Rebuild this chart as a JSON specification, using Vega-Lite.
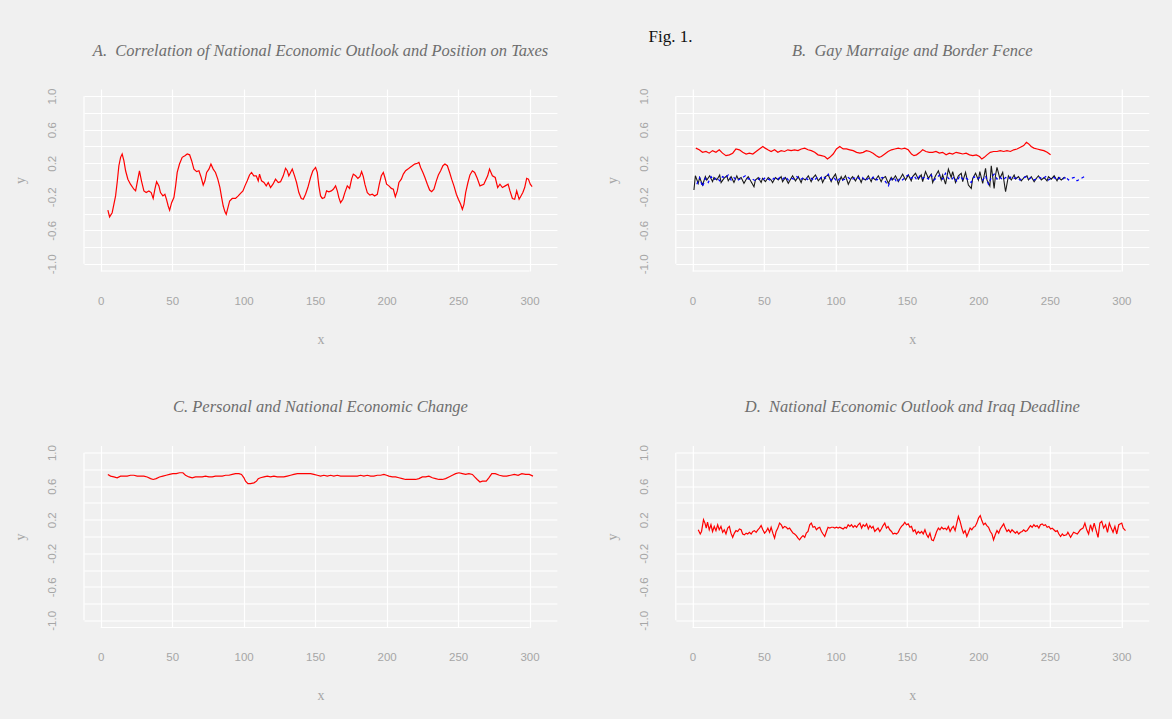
{
  "$schema": "https://vega.github.io/schema/vega-lite/v6.json",
  "background": "#f0f0f0",
  "padding": {"left": 13, "top": 28, "right": 23.7, "bottom": 15.5},
  "title": {"text": "Fig. 1.", "anchor": "start", "frame": "bounds", "dx": 635, "offset": -3.5, "font": "Liberation Serif", "fontStyle": "normal", "fontSize": 17, "color": "#111111"},
  "bounds": "flush",
  "columns": 2,
  "spacing": {"row": 174.5, "column": 118.8},
  "config": {
    "view": {"stroke": null},
    "title": {"font": "Liberation Serif", "fontStyle": "italic", "fontWeight": "normal", "fontSize": 16.5, "color": "#6e6e6e", "offset": 29, "anchor": "middle"},
    "axis": {
      "domain": false, "ticks": false, "grid": true, "gridColor": "#ffffff", "gridWidth": 1.2,
      "labelColor": "#a6a6a6", "labelFont": "Liberation Sans", "labelFontSize": 11.5,
      "titleColor": "#a6a6a6", "titleFont": "Liberation Serif", "titleFontWeight": "normal", "titleFontSize": 14,
      "labelOverlap": false, "labelFlush": false
    },
    "axisX": {"labelPadding": 24, "titlePadding": 26, "tickCount": 7},
    "axisY": {
      "labelExpr": "(round(datum.value*10)+10) % 4 == 0 ? replace(format(datum.value, '.1f'), '\u2212', '-') : ''",
      "labelAngle": -90, "labelPadding": 26.5, "titlePadding": 19, "tickCount": 11
    }
  },
  "datasets": {
    "a": [
      {"x":5,"y":-0.36},{"x":6.2,"y":-0.44},{"x":8,"y":-0.39},{"x":9.2,"y":-0.29},{"x":10.4,"y":-0.19},{"x":11.5,"y":-0.03},{"x":12.7,"y":0.17},{"x":13.9,"y":0.27},{"x":15,"y":0.31},{"x":16.2,"y":0.23},{"x":17.4,"y":0.11},{"x":19,"y":0.01},{"x":20.8,"y":-0.05},{"x":23.2,"y":-0.11},{"x":24.4,"y":-0.13},{"x":25.5,"y":-0.03},{"x":27.1,"y":0.11},{"x":28.5,"y":-0.01},{"x":30.2,"y":-0.13},{"x":31.8,"y":-0.15},{"x":33.7,"y":-0.13},{"x":35.3,"y":-0.15},{"x":36.7,"y":-0.22},{"x":37.9,"y":-0.11},{"x":39.1,"y":-0.02},{"x":40.7,"y":-0.07},{"x":41.8,"y":-0.15},{"x":43.5,"y":-0.19},{"x":44.9,"y":-0.17},{"x":46,"y":-0.23},{"x":47.2,"y":-0.31},{"x":48.2,"y":-0.36},{"x":49.6,"y":-0.27},{"x":51.2,"y":-0.21},{"x":52.4,"y":-0.07},{"x":53.5,"y":0.09},{"x":55.1,"y":0.19},{"x":57,"y":0.27},{"x":58.9,"y":0.29},{"x":60.5,"y":0.31},{"x":62.2,"y":0.3},{"x":63.6,"y":0.23},{"x":65.2,"y":0.13},{"x":67.1,"y":0.1},{"x":68.7,"y":0.11},{"x":70.3,"y":0.03},{"x":71.7,"y":-0.06},{"x":72.9,"y":-0.01},{"x":74.1,"y":0.09},{"x":75.7,"y":0.13},{"x":77.1,"y":0.19},{"x":78.7,"y":0.13},{"x":80.3,"y":0.09},{"x":81.9,"y":0.01},{"x":83.4,"y":-0.09},{"x":84.6,"y":-0.21},{"x":85.7,"y":-0.31},{"x":86.9,"y":-0.38},{"x":87.8,"y":-0.41},{"x":89,"y":-0.33},{"x":90.2,"y":-0.25},{"x":92,"y":-0.22},{"x":94.3,"y":-0.22},{"x":96.2,"y":-0.19},{"x":97.8,"y":-0.16},{"x":99.5,"y":-0.13},{"x":100.9,"y":-0.07},{"x":102.5,"y":-0.01},{"x":104.1,"y":0.06},{"x":105.5,"y":0.09},{"x":107.1,"y":0.05},{"x":108.8,"y":0.05},{"x":110.2,"y":-0.01},{"x":111.1,"y":0.07},{"x":112.5,"y":-0.01},{"x":114.2,"y":-0.03},{"x":115.8,"y":-0.07},{"x":117.2,"y":-0.03},{"x":118.8,"y":-0.09},{"x":120.5,"y":-0.05},{"x":122.3,"y":0.01},{"x":124.2,"y":-0.03},{"x":125.8,"y":-0.02},{"x":127.7,"y":0.05},{"x":129.3,"y":0.14},{"x":130.5,"y":0.11},{"x":131.6,"y":0.05},{"x":132.8,"y":0.09},{"x":134,"y":0.13},{"x":135.6,"y":0.05},{"x":137,"y":-0.03},{"x":138.6,"y":-0.15},{"x":140.3,"y":-0.22},{"x":141.7,"y":-0.23},{"x":143.3,"y":-0.17},{"x":144.9,"y":-0.09},{"x":146.8,"y":0.03},{"x":148.4,"y":0.11},{"x":150.3,"y":0.15},{"x":151.5,"y":0.09},{"x":152.6,"y":-0.07},{"x":153.8,"y":-0.19},{"x":155,"y":-0.22},{"x":156.6,"y":-0.21},{"x":158,"y":-0.13},{"x":159.6,"y":-0.14},{"x":161.3,"y":-0.13},{"x":162.7,"y":-0.11},{"x":164.3,"y":-0.07},{"x":165.5,"y":-0.13},{"x":166.6,"y":-0.21},{"x":167.8,"y":-0.27},{"x":169.4,"y":-0.23},{"x":170.8,"y":-0.15},{"x":172.5,"y":-0.07},{"x":174.1,"y":-0.1},{"x":175.5,"y":0.01},{"x":176.7,"y":0.07},{"x":178.3,"y":0.05},{"x":179.9,"y":0.02},{"x":181.3,"y":0.04},{"x":182.5,"y":0.1},{"x":183.7,"y":0.04},{"x":184.8,"y":-0.05},{"x":186.5,"y":-0.15},{"x":188.3,"y":-0.18},{"x":190,"y":-0.17},{"x":191.6,"y":-0.19},{"x":193.5,"y":-0.17},{"x":194.9,"y":-0.05},{"x":196.3,"y":0.05},{"x":197.7,"y":0.09},{"x":198.8,"y":0.03},{"x":200,"y":-0.05},{"x":201.6,"y":-0.07},{"x":203.3,"y":-0.1},{"x":204.7,"y":-0.11},{"x":206.1,"y":-0.2},{"x":207.5,"y":-0.13},{"x":208.6,"y":-0.03},{"x":210.3,"y":0.01},{"x":211.7,"y":0.07},{"x":213.3,"y":0.11},{"x":214.9,"y":0.13},{"x":216.3,"y":0.15},{"x":218,"y":0.17},{"x":219.6,"y":0.19},{"x":221.5,"y":0.2},{"x":222.6,"y":0.21},{"x":223.8,"y":0.15},{"x":225.4,"y":0.09},{"x":226.8,"y":0.03},{"x":228.5,"y":-0.05},{"x":230.1,"y":-0.12},{"x":231.5,"y":-0.14},{"x":233.1,"y":-0.11},{"x":234.8,"y":-0.01},{"x":236.2,"y":0.06},{"x":237.8,"y":0.11},{"x":239.4,"y":0.17},{"x":240.8,"y":0.19},{"x":242.5,"y":0.17},{"x":244.1,"y":0.09},{"x":245.5,"y":0.01},{"x":247.1,"y":-0.07},{"x":248.8,"y":-0.17},{"x":250.2,"y":-0.23},{"x":251.8,"y":-0.29},{"x":253,"y":-0.35},{"x":254.1,"y":-0.29},{"x":255.3,"y":-0.15},{"x":256.9,"y":-0.03},{"x":258.3,"y":0.06},{"x":260,"y":0.11},{"x":261.6,"y":0.09},{"x":263.4,"y":0.02},{"x":265.3,"y":-0.07},{"x":268,"y":-0.05},{"x":270.7,"y":0.05},{"x":272,"y":0.13},{"x":274,"y":0.05},{"x":276,"y":0.03},{"x":277.7,"y":-0.09},{"x":279.3,"y":-0.05},{"x":281,"y":-0.09},{"x":283,"y":-0.07},{"x":285,"y":-0.05},{"x":286.3,"y":-0.13},{"x":288,"y":-0.22},{"x":289.6,"y":-0.23},{"x":291,"y":-0.13},{"x":292.7,"y":-0.23},{"x":294,"y":-0.19},{"x":295.3,"y":-0.15},{"x":296.6,"y":-0.09},{"x":298,"y":0.02},{"x":299.2,"y":0.01},{"x":300.5,"y":-0.05},{"x":301.8,"y":-0.08}
    ],
    "b_red": [
      {"x":2.3,"y":0.38},{"x":4.7,"y":0.36},{"x":7,"y":0.33},{"x":9.4,"y":0.34},{"x":11.7,"y":0.32},{"x":14,"y":0.35},{"x":16.4,"y":0.33},{"x":18.7,"y":0.36},{"x":21,"y":0.32},{"x":23.4,"y":0.29},{"x":25.8,"y":0.3},{"x":28.1,"y":0.32},{"x":30.4,"y":0.37},{"x":32.8,"y":0.36},{"x":35.1,"y":0.33},{"x":37.5,"y":0.31},{"x":39.8,"y":0.32},{"x":42.2,"y":0.31},{"x":44.5,"y":0.34},{"x":46.8,"y":0.37},{"x":49.2,"y":0.4},{"x":50.8,"y":0.38},{"x":52.7,"y":0.36},{"x":55,"y":0.34},{"x":57.4,"y":0.36},{"x":59.7,"y":0.33},{"x":62,"y":0.35},{"x":64.4,"y":0.34},{"x":66.7,"y":0.36},{"x":69,"y":0.35},{"x":71.4,"y":0.36},{"x":73.8,"y":0.35},{"x":76.1,"y":0.37},{"x":78.5,"y":0.38},{"x":80.8,"y":0.36},{"x":83.1,"y":0.35},{"x":85.5,"y":0.33},{"x":87.8,"y":0.3},{"x":90.2,"y":0.29},{"x":92.5,"y":0.28},{"x":94.4,"y":0.25},{"x":96,"y":0.27},{"x":98.4,"y":0.31},{"x":100.7,"y":0.37},{"x":103,"y":0.4},{"x":105.4,"y":0.37},{"x":107.7,"y":0.37},{"x":110,"y":0.36},{"x":112.4,"y":0.35},{"x":114.8,"y":0.33},{"x":117.1,"y":0.32},{"x":119.4,"y":0.33},{"x":121.6,"y":0.35},{"x":124,"y":0.34},{"x":126.3,"y":0.32},{"x":128.6,"y":0.29},{"x":130.5,"y":0.27},{"x":132.1,"y":0.28},{"x":134.5,"y":0.31},{"x":136.8,"y":0.34},{"x":139.2,"y":0.36},{"x":141.5,"y":0.37},{"x":143.9,"y":0.38},{"x":146.2,"y":0.37},{"x":148.5,"y":0.38},{"x":150.9,"y":0.36},{"x":153.2,"y":0.31},{"x":154.9,"y":0.29},{"x":156.7,"y":0.3},{"x":159.1,"y":0.33},{"x":161,"y":0.36},{"x":163.3,"y":0.34},{"x":165.6,"y":0.33},{"x":168,"y":0.33},{"x":170.3,"y":0.34},{"x":172.7,"y":0.32},{"x":175,"y":0.33},{"x":177.4,"y":0.3},{"x":179.7,"y":0.32},{"x":182,"y":0.31},{"x":184.4,"y":0.33},{"x":186.7,"y":0.32},{"x":189.1,"y":0.31},{"x":191.4,"y":0.32},{"x":193.8,"y":0.3},{"x":196.1,"y":0.29},{"x":198.5,"y":0.3},{"x":200.8,"y":0.28},{"x":202.4,"y":0.25},{"x":204.1,"y":0.27},{"x":206,"y":0.3},{"x":208.3,"y":0.33},{"x":210.6,"y":0.34},{"x":213,"y":0.34},{"x":215.3,"y":0.35},{"x":217.7,"y":0.34},{"x":220,"y":0.35},{"x":222.4,"y":0.34},{"x":224.7,"y":0.36},{"x":227,"y":0.37},{"x":229.4,"y":0.39},{"x":231.7,"y":0.41},{"x":233.6,"y":0.45},{"x":235.2,"y":0.43},{"x":236.9,"y":0.4},{"x":238.8,"y":0.38},{"x":241.1,"y":0.37},{"x":243.4,"y":0.36},{"x":245.8,"y":0.35},{"x":248.1,"y":0.33},{"x":250.5,"y":0.3}
    ],
    "b_black": [
      {"x":1,"y":-0.12},{"x":2,"y":0.05},{"x":4,"y":-0.04},{"x":5,"y":0.03},{"x":7,"y":-0.06},{"x":9,"y":0.04},{"x":10,"y":0},{"x":12,"y":0.05},{"x":14,"y":-0.02},{"x":15,"y":0.03},{"x":17,"y":0},{"x":19,"y":0.06},{"x":20,"y":-0.03},{"x":22,"y":0.02},{"x":24,"y":0.05},{"x":25,"y":-0.01},{"x":27,"y":0.04},{"x":29,"y":-0.03},{"x":31,"y":0.05},{"x":32,"y":0.01},{"x":34,"y":0.03},{"x":36,"y":-0.04},{"x":38,"y":0.02},{"x":39,"y":0.04},{"x":41,"y":-0.02},{"x":43,"y":-0.08},{"x":44,"y":0},{"x":46,"y":0.03},{"x":48,"y":-0.03},{"x":49,"y":0.02},{"x":51,"y":-0.02},{"x":53,"y":0.03},{"x":55,"y":0},{"x":56,"y":-0.03},{"x":58,"y":0.03},{"x":60,"y":0},{"x":62,"y":0.04},{"x":63,"y":-0.02},{"x":65,"y":0.03},{"x":67,"y":-0.04},{"x":69,"y":0.02},{"x":70,"y":0.05},{"x":72,"y":-0.01},{"x":74,"y":0.04},{"x":76,"y":-0.03},{"x":77,"y":0.02},{"x":79,"y":0},{"x":81,"y":0.05},{"x":83,"y":-0.02},{"x":84,"y":0.02},{"x":86,"y":0.06},{"x":88,"y":-0.01},{"x":90,"y":0.03},{"x":91,"y":-0.03},{"x":93,"y":0.04},{"x":95,"y":0.06},{"x":97,"y":-0.02},{"x":98,"y":0.02},{"x":100,"y":0.07},{"x":102,"y":-0.05},{"x":104,"y":0.04},{"x":105,"y":0},{"x":107,"y":0.05},{"x":109,"y":-0.05},{"x":111,"y":0.02},{"x":112,"y":0.04},{"x":114,"y":-0.01},{"x":116,"y":0.05},{"x":118,"y":-0.03},{"x":119,"y":0.02},{"x":121,"y":0},{"x":123,"y":0.05},{"x":125,"y":-0.02},{"x":126,"y":0.03},{"x":128,"y":0},{"x":130,"y":0.05},{"x":132,"y":-0.02},{"x":133,"y":0.02},{"x":135,"y":0.04},{"x":137,"y":-0.04},{"x":139,"y":0.03},{"x":140,"y":0},{"x":142,"y":0.05},{"x":144,"y":-0.02},{"x":146,"y":0.04},{"x":147,"y":0.07},{"x":149,"y":0},{"x":151,"y":0.06},{"x":153,"y":-0.01},{"x":154,"y":0.04},{"x":156,"y":0.08},{"x":158,"y":0.01},{"x":160,"y":0.06},{"x":161,"y":-0.02},{"x":163,"y":0.1},{"x":165,"y":0.02},{"x":167,"y":0.07},{"x":168,"y":-0.03},{"x":170,"y":0.05},{"x":172,"y":0.11},{"x":174,"y":0},{"x":175,"y":0.06},{"x":177,"y":-0.05},{"x":179,"y":0.13},{"x":181,"y":0.03},{"x":182,"y":0.1},{"x":184,"y":-0.03},{"x":186,"y":0.05},{"x":188,"y":0.08},{"x":189,"y":-0.02},{"x":191,"y":0.09},{"x":193,"y":-0.06},{"x":195,"y":-0.1},{"x":196,"y":0.02},{"x":198,"y":0.08},{"x":200,"y":0},{"x":201,"y":0.1},{"x":203,"y":-0.04},{"x":205,"y":0.14},{"x":206,"y":0},{"x":208,"y":-0.07},{"x":209,"y":0.17},{"x":211,"y":-0.1},{"x":212,"y":0.06},{"x":213,"y":0.15},{"x":215,"y":0.02},{"x":217,"y":0.09},{"x":219,"y":-0.14},{"x":221,"y":0.05},{"x":223,"y":0},{"x":225,"y":0.06},{"x":226,"y":0.01},{"x":228,"y":0.04},{"x":230,"y":-0.01},{"x":232,"y":0.03},{"x":234,"y":0.05},{"x":235,"y":0},{"x":237,"y":0.04},{"x":239,"y":-0.02},{"x":241,"y":0.03},{"x":242,"y":0.05},{"x":244,"y":0},{"x":246,"y":0.03},{"x":248,"y":-0.01},{"x":249,"y":0.04},{"x":251,"y":0.01},{"x":253,"y":0.05},{"x":255,"y":-0.01},{"x":256,"y":0.03},{"x":258,"y":0},{"x":260,"y":0.03},{"x":261,"y":0.02}
    ],
    "b_blue": [
      {"x":3,"y":-0.05},{"x":5,"y":0.03},{"x":7,"y":-0.08},{"x":9,"y":0.02},{"x":11,"y":-0.03},{"x":13,"y":0.04},{"x":15,"y":0},{"x":17,"y":0.03},{"x":19,"y":-0.01},{"x":21,"y":0.04},{"x":23,"y":0.02},{"x":25,"y":0.06},{"x":27,"y":0},{"x":29,"y":0.03},{"x":31,"y":-0.01},{"x":33,"y":0.01},{"x":35,"y":0.03},{"x":37,"y":0.05},{"x":39,"y":0.01},{"x":41,"y":0.02},{"x":43,"y":0},{"x":45,"y":-0.01},{"x":47,"y":0.02},{"x":49,"y":0},{"x":51,"y":0.03},{"x":53,"y":0.01},{"x":55,"y":-0.01},{"x":57,"y":0.02},{"x":59,"y":0},{"x":61,"y":0.03},{"x":63,"y":0.01},{"x":65,"y":0.04},{"x":67,"y":0},{"x":69,"y":0.02},{"x":71,"y":0.01},{"x":73,"y":0.04},{"x":75,"y":0},{"x":77,"y":0.02},{"x":79,"y":0.03},{"x":81,"y":0},{"x":83,"y":0.02},{"x":85,"y":-0.01},{"x":87,"y":0.03},{"x":89,"y":0.01},{"x":91,"y":0.05},{"x":93,"y":0.02},{"x":95,"y":0.07},{"x":97,"y":0},{"x":99,"y":0.03},{"x":101,"y":-0.02},{"x":103,"y":0.02},{"x":105,"y":0},{"x":107,"y":0.01},{"x":109,"y":0.03},{"x":111,"y":0},{"x":113,"y":0.02},{"x":115,"y":0.04},{"x":117,"y":0.01},{"x":119,"y":0.03},{"x":121,"y":-0.01},{"x":123,"y":0.02},{"x":125,"y":0.01},{"x":127,"y":0.04},{"x":129,"y":0},{"x":131,"y":0.02},{"x":133,"y":0.03},{"x":135,"y":-0.02},{"x":137,"y":-0.07},{"x":139,"y":0.01},{"x":141,"y":0.03},{"x":143,"y":-0.03},{"x":145,"y":0.02},{"x":147,"y":0},{"x":149,"y":0.04},{"x":151,"y":0.06},{"x":153,"y":0.02},{"x":155,"y":0.05},{"x":157,"y":0},{"x":159,"y":0.05},{"x":161,"y":0.02},{"x":163,"y":0.04},{"x":165,"y":0.01},{"x":167,"y":0.06},{"x":169,"y":0},{"x":171,"y":0.03},{"x":173,"y":0.06},{"x":175,"y":0.01},{"x":177,"y":0.08},{"x":179,"y":0.02},{"x":181,"y":0},{"x":183,"y":0.04},{"x":185,"y":-0.02},{"x":187,"y":0.05},{"x":189,"y":0.01},{"x":191,"y":0.03},{"x":193,"y":0},{"x":195,"y":-0.03},{"x":197,"y":0.04},{"x":199,"y":0.01},{"x":201,"y":0.03},{"x":203,"y":0},{"x":205,"y":0.05},{"x":207,"y":-0.05},{"x":209,"y":0.03},{"x":211,"y":0.07},{"x":213,"y":0.01},{"x":215,"y":0.04},{"x":217,"y":0},{"x":219,"y":0.03},{"x":221,"y":0.01},{"x":223,"y":0.04},{"x":225,"y":0.02},{"x":227,"y":0.03},{"x":229,"y":0},{"x":231,"y":0.02},{"x":233,"y":0.04},{"x":235,"y":0.01},{"x":237,"y":0.03},{"x":239,"y":0},{"x":241,"y":0.02},{"x":243,"y":0.03},{"x":245,"y":0.01},{"x":247,"y":0.04},{"x":249,"y":0},{"x":251,"y":0.02},{"x":253,"y":0.03},{"x":255,"y":0},{"x":257,"y":0.03},{"x":259,"y":0.01},{"x":261,"y":0.04},{"x":263,"y":0},{"x":265,"y":0.02},{"x":267,"y":0.03},{"x":269,"y":-0.01},{"x":271,"y":0.01},{"x":273,"y":0.03},{"x":275,"y":0.05}
    ],
    "c": [
      {"x":5,"y":0.74},{"x":6.9,"y":0.72},{"x":9.2,"y":0.71},{"x":11.5,"y":0.7},{"x":13.9,"y":0.72},{"x":16.2,"y":0.72},{"x":18.5,"y":0.72},{"x":20.9,"y":0.73},{"x":23.2,"y":0.73},{"x":25.5,"y":0.72},{"x":27.9,"y":0.72},{"x":30.2,"y":0.72},{"x":32.5,"y":0.71},{"x":34.9,"y":0.69},{"x":36.7,"y":0.68},{"x":38.8,"y":0.69},{"x":41.1,"y":0.71},{"x":43.5,"y":0.72},{"x":45.8,"y":0.73},{"x":48.1,"y":0.74},{"x":50.5,"y":0.75},{"x":52.8,"y":0.75},{"x":55.2,"y":0.76},{"x":57.5,"y":0.76},{"x":59.3,"y":0.73},{"x":61.7,"y":0.71},{"x":64,"y":0.7},{"x":66.3,"y":0.71},{"x":68.7,"y":0.71},{"x":71,"y":0.71},{"x":73.3,"y":0.72},{"x":75.7,"y":0.71},{"x":78,"y":0.71},{"x":80.3,"y":0.72},{"x":82.7,"y":0.72},{"x":85,"y":0.72},{"x":87.4,"y":0.73},{"x":89.7,"y":0.73},{"x":92,"y":0.74},{"x":94.3,"y":0.75},{"x":96.7,"y":0.75},{"x":98.5,"y":0.74},{"x":100.2,"y":0.7},{"x":101.3,"y":0.66},{"x":103,"y":0.63},{"x":104.8,"y":0.63},{"x":107.2,"y":0.64},{"x":109,"y":0.66},{"x":110.2,"y":0.69},{"x":111.8,"y":0.7},{"x":114.2,"y":0.71},{"x":116.5,"y":0.72},{"x":118.8,"y":0.71},{"x":121.2,"y":0.72},{"x":123.5,"y":0.71},{"x":125.8,"y":0.71},{"x":128.1,"y":0.71},{"x":130.5,"y":0.72},{"x":132.8,"y":0.73},{"x":135.1,"y":0.74},{"x":137.5,"y":0.75},{"x":139.8,"y":0.75},{"x":142.1,"y":0.75},{"x":144.5,"y":0.75},{"x":146.8,"y":0.75},{"x":149.1,"y":0.74},{"x":151.5,"y":0.73},{"x":153.8,"y":0.72},{"x":156.1,"y":0.73},{"x":158.5,"y":0.72},{"x":160.8,"y":0.73},{"x":163.1,"y":0.72},{"x":165.5,"y":0.73},{"x":167.8,"y":0.72},{"x":170.1,"y":0.72},{"x":172.5,"y":0.72},{"x":174.8,"y":0.72},{"x":177.1,"y":0.72},{"x":179.5,"y":0.72},{"x":181.8,"y":0.73},{"x":184.1,"y":0.72},{"x":186.5,"y":0.73},{"x":188.8,"y":0.72},{"x":191.1,"y":0.72},{"x":193.5,"y":0.73},{"x":195.8,"y":0.73},{"x":198.1,"y":0.74},{"x":200,"y":0.73},{"x":201.6,"y":0.72},{"x":204,"y":0.71},{"x":206.3,"y":0.71},{"x":208.6,"y":0.7},{"x":211,"y":0.69},{"x":213.3,"y":0.68},{"x":215.6,"y":0.68},{"x":218,"y":0.68},{"x":220.3,"y":0.68},{"x":222.6,"y":0.69},{"x":225,"y":0.71},{"x":227.3,"y":0.71},{"x":229.6,"y":0.72},{"x":232,"y":0.7},{"x":234.3,"y":0.69},{"x":236.6,"y":0.68},{"x":239,"y":0.68},{"x":241.3,"y":0.69},{"x":243.6,"y":0.71},{"x":246,"y":0.73},{"x":248.3,"y":0.75},{"x":250.6,"y":0.76},{"x":253,"y":0.75},{"x":255.3,"y":0.74},{"x":257.6,"y":0.75},{"x":260,"y":0.74},{"x":261.6,"y":0.71},{"x":263.4,"y":0.68},{"x":265.3,"y":0.65},{"x":267,"y":0.66},{"x":269.7,"y":0.66},{"x":271.5,"y":0.7},{"x":273.6,"y":0.75},{"x":276,"y":0.75},{"x":278.9,"y":0.73},{"x":281.5,"y":0.72},{"x":284,"y":0.72},{"x":286.8,"y":0.73},{"x":289.4,"y":0.74},{"x":292,"y":0.73},{"x":294.6,"y":0.75},{"x":297.2,"y":0.74},{"x":299.8,"y":0.74},{"x":302.4,"y":0.72}
    ],
    "d": [
      {"x":4,"y":0.08},{"x":5.4,"y":0.03},{"x":6.3,"y":0.06},{"x":7.7,"y":0.2},{"x":8.7,"y":0.16},{"x":9.6,"y":0.1},{"x":10.5,"y":0.17},{"x":11.7,"y":0.08},{"x":12.9,"y":0.14},{"x":14,"y":0.06},{"x":15.2,"y":0.12},{"x":16.4,"y":0.07},{"x":17.6,"y":0.14},{"x":18.7,"y":0.08},{"x":19.9,"y":0.12},{"x":21.1,"y":0.05},{"x":22.2,"y":0.08},{"x":23.4,"y":0.03},{"x":24.6,"y":0.1},{"x":25.8,"y":0.12},{"x":26.9,"y":0.04},{"x":28.1,"y":-0.01},{"x":29.3,"y":0.04},{"x":30.4,"y":0.07},{"x":31.6,"y":0.06},{"x":32.8,"y":0.09},{"x":34,"y":0.08},{"x":35.1,"y":0.03},{"x":36.3,"y":0.02},{"x":37.5,"y":0.04},{"x":38.6,"y":0.03},{"x":39.8,"y":0.05},{"x":41,"y":0.03},{"x":42.2,"y":0.06},{"x":43.3,"y":0.07},{"x":44.5,"y":0.05},{"x":45.7,"y":0.08},{"x":46.8,"y":0.1},{"x":48,"y":0.13},{"x":49.2,"y":0.08},{"x":50.4,"y":0.04},{"x":51.5,"y":0.06},{"x":52.7,"y":0.1},{"x":53.9,"y":0.05},{"x":55,"y":0.11},{"x":56.2,"y":0.04},{"x":57.4,"y":-0.02},{"x":58.5,"y":0.06},{"x":59.7,"y":0.1},{"x":60.9,"y":0.16},{"x":62.1,"y":0.14},{"x":63.2,"y":0.1},{"x":64.4,"y":0.12},{"x":65.6,"y":0.11},{"x":66.7,"y":0.09},{"x":67.9,"y":0.1},{"x":69.1,"y":0.07},{"x":70.3,"y":0.04},{"x":71.4,"y":0.03},{"x":72.6,"y":0.01},{"x":73.8,"y":-0.02},{"x":74.9,"y":-0.04},{"x":76.1,"y":-0.01},{"x":77.3,"y":0.01},{"x":78.5,"y":-0.01},{"x":79.6,"y":0.04},{"x":80.8,"y":0.06},{"x":82,"y":0.14},{"x":83.1,"y":0.16},{"x":84.3,"y":0.11},{"x":85.5,"y":0.12},{"x":86.7,"y":0.08},{"x":87.8,"y":0.1},{"x":89,"y":0.11},{"x":90.2,"y":0.06},{"x":91.3,"y":0.03},{"x":92.5,"y":0},{"x":93.7,"y":0.06},{"x":94.8,"y":0.11},{"x":96,"y":0.1},{"x":97.2,"y":0.11},{"x":98.4,"y":0.11},{"x":99.5,"y":0.1},{"x":100.7,"y":0.11},{"x":101.9,"y":0.1},{"x":103,"y":0.11},{"x":104.2,"y":0.1},{"x":105.4,"y":0.09},{"x":106.6,"y":0.11},{"x":107.7,"y":0.1},{"x":108.9,"y":0.14},{"x":110.1,"y":0.12},{"x":111.2,"y":0.14},{"x":112.4,"y":0.11},{"x":113.6,"y":0.13},{"x":114.8,"y":0.11},{"x":115.9,"y":0.14},{"x":117.1,"y":0.16},{"x":118.3,"y":0.1},{"x":119.4,"y":0.14},{"x":120.6,"y":0.12},{"x":121.8,"y":0.15},{"x":123,"y":0.09},{"x":124.1,"y":0.13},{"x":125.3,"y":0.1},{"x":126.3,"y":0.12},{"x":127.5,"y":0.06},{"x":128.6,"y":0.08},{"x":129.8,"y":0.1},{"x":131,"y":0.06},{"x":132.1,"y":0.09},{"x":133.3,"y":0.13},{"x":134.5,"y":0.16},{"x":135.7,"y":0.1},{"x":136.8,"y":0.12},{"x":138,"y":0.08},{"x":139.2,"y":0.06},{"x":140.3,"y":0.03},{"x":141.5,"y":0.04},{"x":142.7,"y":0.03},{"x":143.9,"y":0.05},{"x":145,"y":0.09},{"x":146.2,"y":0.12},{"x":147.4,"y":0.14},{"x":148.5,"y":0.17},{"x":149.7,"y":0.14},{"x":150.9,"y":0.15},{"x":152.1,"y":0.11},{"x":153.2,"y":0.12},{"x":154.4,"y":0.06},{"x":155.6,"y":0.08},{"x":156.7,"y":0.03},{"x":157.9,"y":0.06},{"x":159.1,"y":0.04},{"x":160.3,"y":0.06},{"x":161.4,"y":0.03},{"x":162.6,"y":0.08},{"x":163.8,"y":0.02},{"x":164.9,"y":-0.01},{"x":166.1,"y":0.04},{"x":167.3,"y":-0.04},{"x":168.5,"y":-0.05},{"x":169.6,"y":0},{"x":170.8,"y":0.06},{"x":172,"y":0.1},{"x":173.1,"y":0.08},{"x":174.3,"y":0.11},{"x":175.5,"y":0.09},{"x":176.7,"y":0.1},{"x":177.8,"y":0.08},{"x":179,"y":0.12},{"x":180.2,"y":0.06},{"x":181.4,"y":0.1},{"x":182.5,"y":0.12},{"x":183.7,"y":0.07},{"x":184.9,"y":0.16},{"x":186,"y":0.24},{"x":187.2,"y":0.18},{"x":188.4,"y":0.1},{"x":189.5,"y":0.04},{"x":190.7,"y":0.07},{"x":191.9,"y":0},{"x":193.1,"y":0.05},{"x":194.2,"y":0.1},{"x":195.4,"y":0.08},{"x":196.6,"y":0.11},{"x":197.7,"y":0.12},{"x":198.9,"y":0.16},{"x":200.1,"y":0.22},{"x":201.3,"y":0.25},{"x":202.4,"y":0.19},{"x":203.6,"y":0.14},{"x":204.8,"y":0.16},{"x":205.9,"y":0.13},{"x":207.1,"y":0.11},{"x":208.3,"y":0.06},{"x":209.5,"y":0.03},{"x":210.6,"y":-0.04},{"x":211.8,"y":0.02},{"x":213,"y":0.07},{"x":214.2,"y":0.04},{"x":215.3,"y":0.09},{"x":216.5,"y":0.12},{"x":217.7,"y":0.15},{"x":218.8,"y":0.1},{"x":220,"y":0.06},{"x":221.2,"y":0.08},{"x":222.4,"y":0.05},{"x":223.5,"y":0.08},{"x":224.7,"y":0.06},{"x":225.9,"y":0.04},{"x":227,"y":0.06},{"x":228.2,"y":0.03},{"x":229.4,"y":0.05},{"x":230.6,"y":0.06},{"x":231.7,"y":0.08},{"x":232.9,"y":0.06},{"x":234.1,"y":0.07},{"x":235.2,"y":0.1},{"x":236.4,"y":0.13},{"x":237.6,"y":0.11},{"x":238.8,"y":0.14},{"x":239.9,"y":0.12},{"x":241.1,"y":0.13},{"x":242.3,"y":0.1},{"x":243.4,"y":0.14},{"x":244.6,"y":0.15},{"x":245.8,"y":0.13},{"x":246.9,"y":0.14},{"x":248.1,"y":0.11},{"x":249.3,"y":0.12},{"x":250.5,"y":0.09},{"x":251.6,"y":0.1},{"x":252.8,"y":0.08},{"x":254,"y":0.06},{"x":255.2,"y":0.07},{"x":256.3,"y":0.03},{"x":257.5,"y":0},{"x":258.7,"y":0.03},{"x":259.8,"y":0.01},{"x":261.7,"y":0.02},{"x":262.6,"y":0.05},{"x":264.5,"y":-0.01},{"x":266.6,"y":0.05},{"x":269.2,"y":0.03},{"x":271.3,"y":0.08},{"x":273.2,"y":0.1},{"x":274.5,"y":0.16},{"x":275.8,"y":0.08},{"x":277.1,"y":0.03},{"x":278.4,"y":0.14},{"x":279.7,"y":0.07},{"x":281,"y":0.16},{"x":282.4,"y":0.07},{"x":283.7,"y":-0.01},{"x":285,"y":0.16},{"x":286.3,"y":0.18},{"x":287.6,"y":0.1},{"x":289,"y":0.14},{"x":290.3,"y":0.05},{"x":291.6,"y":0.16},{"x":292.9,"y":0.1},{"x":294.2,"y":0.05},{"x":295.5,"y":0.12},{"x":296.8,"y":0.03},{"x":298.2,"y":0.14},{"x":300.3,"y":0.16},{"x":301.3,"y":0.1},{"x":302.9,"y":0.07}
    ]
  },
  "concat": [
    {
      "width": 473, "height": 182,
      "title": {"text": "A.\u00a0 Correlation of National Economic Outlook and Position on Taxes"},
      "layer": [
        {
          "data": {"name": "a"},
          "mark": {"type": "line", "color": "#ff0000", "strokeWidth": 1.2},
          "encoding": {
            "x": {"field": "x", "type": "quantitative", "scale": {"domain": [-11.7, 319.2], "nice": false, "zero": false}, "axis": {"title": "x", "values": [0, 50, 100, 150, 200, 250, 300]}},
            "y": {"field": "y", "type": "quantitative", "scale": {"domain": [-1.085, 1.085], "nice": false, "zero": false}, "axis": {"title": "y", "tickCount": 11, "values": [-1, -0.8, -0.6, -0.4, -0.2, 0, 0.2, 0.4, 0.6, 0.8, 1]}}
          }
        },
        {
          "data": {"values": [{}]},
          "mark": {"type": "rule", "color": "#ffffff", "strokeWidth": 1.2},
          "encoding": {"x": {"datum": 0, "type": "quantitative"}, "x2": {"datum": 300}, "y": {"datum": -1.085, "type": "quantitative"}}
        },
        {
          "data": {"values": [{}]},
          "mark": {"type": "rule", "color": "#ffffff", "strokeWidth": 1.2},
          "encoding": {"x": {"datum": -11.7, "type": "quantitative"}, "y": {"datum": -1, "type": "quantitative"}, "y2": {"datum": 1}}
        }
      ]
    },
    {
      "width": 473, "height": 182,
      "title": {"text": "B.\u00a0 Gay Marraige and Border Fence"},
      "layer": [
        {
          "data": {"name": "b_red"},
          "mark": {"type": "line", "color": "#ff0000", "strokeWidth": 1.2},
          "encoding": {
            "x": {"field": "x", "type": "quantitative", "scale": {"domain": [-11.7, 319.2], "nice": false, "zero": false}, "axis": {"title": "x", "values": [0, 50, 100, 150, 200, 250, 300]}},
            "y": {"field": "y", "type": "quantitative", "scale": {"domain": [-1.085, 1.085], "nice": false, "zero": false}, "axis": {"title": "y", "tickCount": 11, "values": [-1, -0.8, -0.6, -0.4, -0.2, 0, 0.2, 0.4, 0.6, 0.8, 1]}}
          }
        },
        {
          "data": {"name": "b_black"},
          "mark": {"type": "line", "color": "#1a1a1a", "strokeWidth": 1.1},
          "encoding": {"x": {"field": "x", "type": "quantitative"}, "y": {"field": "y", "type": "quantitative"}}
        },
        {
          "data": {"name": "b_blue"},
          "mark": {"type": "line", "color": "#0000ff", "strokeWidth": 1.2, "strokeDash": [3, 3]},
          "encoding": {"x": {"field": "x", "type": "quantitative"}, "y": {"field": "y", "type": "quantitative"}}
        },
        {
          "data": {"values": [{}]},
          "mark": {"type": "rule", "color": "#ffffff", "strokeWidth": 1.2},
          "encoding": {"x": {"datum": 0, "type": "quantitative"}, "x2": {"datum": 300}, "y": {"datum": -1.085, "type": "quantitative"}}
        },
        {
          "data": {"values": [{}]},
          "mark": {"type": "rule", "color": "#ffffff", "strokeWidth": 1.2},
          "encoding": {"x": {"datum": -11.7, "type": "quantitative"}, "y": {"datum": -1, "type": "quantitative"}, "y2": {"datum": 1}}
        }
      ]
    },
    {
      "width": 473, "height": 182,
      "title": {"text": "C. Personal and National Economic Change"},
      "layer": [
        {
          "data": {"name": "c"},
          "mark": {"type": "line", "color": "#ff0000", "strokeWidth": 1.2},
          "encoding": {
            "x": {"field": "x", "type": "quantitative", "scale": {"domain": [-11.7, 319.2], "nice": false, "zero": false}, "axis": {"title": "x", "values": [0, 50, 100, 150, 200, 250, 300]}},
            "y": {"field": "y", "type": "quantitative", "scale": {"domain": [-1.085, 1.085], "nice": false, "zero": false}, "axis": {"title": "y", "tickCount": 11, "values": [-1, -0.8, -0.6, -0.4, -0.2, 0, 0.2, 0.4, 0.6, 0.8, 1]}}
          }
        },
        {
          "data": {"values": [{}]},
          "mark": {"type": "rule", "color": "#ffffff", "strokeWidth": 1.2},
          "encoding": {"x": {"datum": 0, "type": "quantitative"}, "x2": {"datum": 300}, "y": {"datum": -1.085, "type": "quantitative"}}
        },
        {
          "data": {"values": [{}]},
          "mark": {"type": "rule", "color": "#ffffff", "strokeWidth": 1.2},
          "encoding": {"x": {"datum": -11.7, "type": "quantitative"}, "y": {"datum": -1, "type": "quantitative"}, "y2": {"datum": 1}}
        }
      ]
    },
    {
      "width": 473, "height": 182,
      "title": {"text": "D.\u00a0 National Economic Outlook and Iraq Deadline"},
      "layer": [
        {
          "data": {"name": "d"},
          "mark": {"type": "line", "color": "#ff0000", "strokeWidth": 1.2},
          "encoding": {
            "x": {"field": "x", "type": "quantitative", "scale": {"domain": [-11.7, 319.2], "nice": false, "zero": false}, "axis": {"title": "x", "values": [0, 50, 100, 150, 200, 250, 300]}},
            "y": {"field": "y", "type": "quantitative", "scale": {"domain": [-1.085, 1.085], "nice": false, "zero": false}, "axis": {"title": "y", "tickCount": 11, "values": [-1, -0.8, -0.6, -0.4, -0.2, 0, 0.2, 0.4, 0.6, 0.8, 1]}}
          }
        },
        {
          "data": {"values": [{}]},
          "mark": {"type": "rule", "color": "#ffffff", "strokeWidth": 1.2},
          "encoding": {"x": {"datum": 0, "type": "quantitative"}, "x2": {"datum": 300}, "y": {"datum": -1.085, "type": "quantitative"}}
        },
        {
          "data": {"values": [{}]},
          "mark": {"type": "rule", "color": "#ffffff", "strokeWidth": 1.2},
          "encoding": {"x": {"datum": -11.7, "type": "quantitative"}, "y": {"datum": -1, "type": "quantitative"}, "y2": {"datum": 1}}
        }
      ]
    }
  ]
}
